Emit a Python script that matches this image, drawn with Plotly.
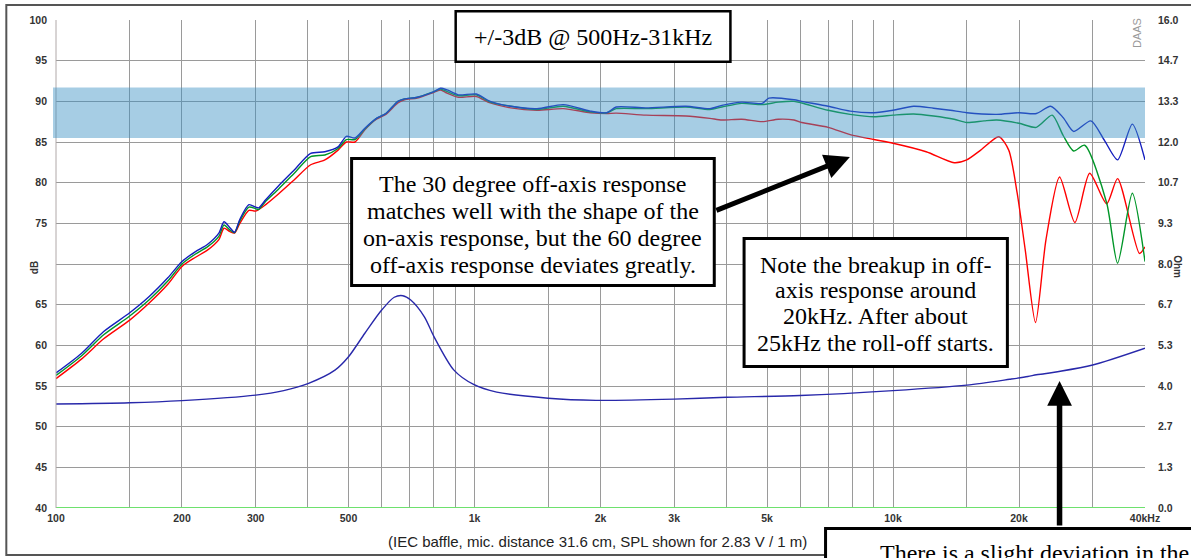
import plotly.graph_objects as go
import math

# ---------------- data ----------------
freq_on = [100, 115, 130, 150, 167, 185, 200, 215, 230, 245, 252, 260, 267, 275, 289, 300, 305, 317, 340, 370,
           406, 439, 472, 494, 518, 547, 583, 614, 656, 680, 730, 800, 830, 860, 915, 1010, 1090, 1220, 1410,
           1630, 1890, 2070, 2180, 2570, 3200, 3650, 3900, 4350, 4870, 5050, 5800, 6050, 7000, 7900, 9000,
           10000, 11200, 12500, 13700, 15000, 17700, 20000, 22000, 23800, 25500, 27000, 29700, 32000, 34400,
           37300, 40000]
spl_on = [56.6, 59.0, 61.7, 64.0, 66.0, 68.3, 70.3, 71.5, 72.4, 73.8, 75.2, 74.5, 73.9, 75.5, 77.3, 77.0, 76.9,
          77.9, 79.6, 81.5, 83.6, 83.8, 84.4, 85.7, 85.5, 86.7, 87.9, 88.5, 90.0, 90.3, 90.5, 91.2, 91.6, 91.4,
          90.8, 90.9, 90.0, 89.4, 89.1, 89.6, 88.8, 88.6, 89.3, 89.2, 89.4, 89.1, 89.5, 89.9, 89.75, 90.4, 90.2,
          90.0, 89.4, 88.8, 88.6, 88.9, 89.4, 89.15, 88.9, 88.6, 88.4, 88.6, 88.5, 89.4, 88.0, 86.3, 87.6, 85.2,
          82.8, 87.2, 82.8]

freq_30 = [100, 115, 130, 150, 167, 185, 200, 215, 230, 245, 252, 260, 267, 275, 289, 300, 305, 317, 340, 370,
           406, 439, 472, 494, 518, 547, 583, 614, 656, 680, 730, 800, 830, 860, 915, 1010, 1090, 1220, 1410,
           1630, 1890, 2070, 2180, 2570, 3200, 3650, 3900, 4350, 4870, 5320, 5800, 6050, 7000, 7900, 9000,
           10000, 11200, 12500, 14000, 15000, 16500, 17700, 20000, 22000, 24000, 25500, 27000, 28700, 32400,
           34400, 37300, 40000]
spl_30 = [56.3, 58.7, 61.3, 63.6, 65.6, 67.9, 70.0, 71.2, 72.1, 73.4, 74.8, 74.2, 73.85, 75.3, 77.0, 76.8, 76.7,
          77.7, 79.2, 81.1, 83.2, 83.4, 84.2, 85.3, 85.3, 86.6, 87.9, 88.5, 90.0, 90.3, 90.5, 91.2, 91.5, 91.2,
          90.7, 90.8, 89.9, 89.4, 89.0, 89.4, 88.7, 88.6, 89.1, 89.1, 89.3, 89.0, 89.3, 89.75, 89.6, 89.9, 90.0,
          89.8, 88.9, 88.4, 88.1, 88.3, 88.45, 88.2, 87.8, 87.4, 87.6, 87.7, 87.3, 86.8, 88.3, 85.8, 83.9, 84.6,
          77.5, 70.1, 78.7, 70.3]

freq_60 = [100, 115, 130, 150, 167, 185, 200, 215, 230, 245, 252, 260, 267, 275, 289, 300, 317, 340, 370, 406,
           439, 472, 494, 518, 547, 583, 614, 656, 680, 730, 800, 830, 860, 915, 1010, 1090, 1220, 1410, 1630,
           1890, 2070, 2180, 2570, 3200, 3650, 3900, 4350, 4870, 5320, 5800, 6050, 7000, 7900, 9000, 10000,
           12000, 14000, 15000, 16200, 17900, 18900, 19800, 20700, 21900, 23200, 25000, 27200, 29500, 32400,
           34400, 38800, 40000]
spl_60 = [55.9, 58.3, 60.8, 63.1, 65.2, 67.5, 69.7, 70.8, 71.7, 73.0, 74.4, 74.0, 73.8, 75.0, 76.6, 76.5, 77.3,
          78.6, 80.3, 82.2, 82.8, 84.0, 85.0, 85.0, 86.5, 87.8, 88.4, 89.8, 90.2, 90.4, 91.1, 91.4, 91.0, 90.5,
          90.6, 89.8, 89.2, 88.9, 89.1, 88.6, 88.5, 88.55, 88.3, 88.2, 87.9, 87.7, 87.8, 87.5, 87.8, 87.7, 87.4,
          86.8, 85.9, 85.3, 84.85, 83.8, 82.45, 82.8, 84.0, 85.65, 84.0, 78.7, 71.7, 62.8, 73.0, 80.7, 75.1,
          81.15, 77.4, 80.5, 71.3, 72.1]

freq_imp = [100, 150, 200, 300, 350, 400, 464, 500, 547, 600, 643, 674, 704, 759, 800, 893, 995, 1130, 1500,
            1950, 3000, 4000, 6000, 10000, 15000, 19000, 21000, 22000, 23000, 24500, 30000, 40000]
imp_ohm = [3.41, 3.45, 3.52, 3.70, 3.85, 4.08, 4.52, 4.96, 5.73, 6.49, 6.91, 6.96, 6.82, 6.27, 5.62, 4.52, 4.05,
           3.80, 3.60, 3.53, 3.57, 3.63, 3.69, 3.85, 4.03, 4.22, 4.31, 4.37, 4.40, 4.46, 4.69, 5.24]

x_grid = [100, 150, 200, 300, 400, 500, 600, 700, 800, 900, 1000, 1500, 2000, 3000, 4000, 5000, 6000, 7000,
          8000, 9000, 10000, 15000, 20000, 30000, 40000]
x_labels = ["100", "", "200", "300", "", "500", "", "", "", "", "1k", "", "2k", "3k", "", "5k", "", "", "", "",
            "10k", "", "20k", "", "40kHz"]
db_ticks = [40, 45, 50, 55, 60, 65, 70, 75, 80, 85, 90, 95, 100]
db_labels = ["40", "45", "50", "55", "60", "65", "", "75", "80", "85", "90", "95", "100"]
ohm_ticks = ["0.0", "1.3", "2.7", "4.0", "5.3", "6.7", "8.0", "9.3", "10.7", "12.0", "13.3", "14.7", "16.0"]
band_lo, band_hi = 85.5, 91.7

box1_lines = ["+/-3dB @ 500Hz-31kHz"]
box2_lines = ["The 30 degree off-axis response", "matches well with the shape of the",
              "on-axis response, but the 60 degree", "off-axis response deviates greatly."]
box3_lines = ["Note the breakup in off-", "axis response around", "20kHz. After about",
              "25kHz the roll-off starts."]
box4_lines = ["There is a slight deviation in the"]

# ---------------- layout helpers ----------------
W, H = 1191, 558
L, R, T, B = 56, 39, 20, 50
PW, PH = W - L - R, H - T - B


def px(x):
    return (x - L) / PW


def py(y):
    return (H - B - y) / PH


fig = go.Figure()
fig.add_trace(go.Scatter(x=freq_imp, y=imp_ohm, yaxis="y2", mode="lines",
                         line=dict(color="rgb(40,40,170)", width=1.4, shape="spline", smoothing=0.8)))
fig.add_trace(go.Scatter(x=freq_60, y=spl_60, mode="lines",
                         line=dict(color="rgb(255,0,0)", width=1.4, shape="spline", smoothing=0.7)))
fig.add_trace(go.Scatter(x=freq_30, y=spl_30, mode="lines",
                         line=dict(color="rgb(0,150,40)", width=1.4, shape="spline", smoothing=0.7)))
fig.add_trace(go.Scatter(x=freq_on, y=spl_on, mode="lines",
                         line=dict(color="rgb(20,30,190)", width=1.4, shape="spline", smoothing=0.7)))

tickfont = dict(family="Liberation Sans, Arial", size=10.5, color="#333", weight="bold")

fig.update_layout(
    width=W, height=H, margin=dict(l=L, r=R, t=T, b=B),
    paper_bgcolor="white", plot_bgcolor="white", showlegend=False,
    xaxis=dict(type="log", range=[2, math.log10(40000)], tickvals=x_grid, ticktext=x_labels,
               showgrid=True, gridcolor="#9a9a9a", gridwidth=1.3, zeroline=False,
               showline=False, ticks="", tickfont=tickfont, ticklabelstandoff=2),
    yaxis=dict(range=[40, 100], tickvals=db_ticks, ticktext=db_labels, showgrid=True, gridcolor="#9a9a9a",
               gridwidth=1.3, zeroline=False, showline=False, ticks="", tickfont=tickfont,
               ticklabelstandoff=8),
    yaxis2=dict(range=[0, 16], overlaying="y", side="right",
                tickvals=[i * 16 / 12 for i in range(13)], ticktext=ohm_ticks,
                showgrid=False, zeroline=False, showline=False, ticks="", tickfont=tickfont,
                ticklabelstandoff=12),
)

shapes = []
# outer frame
shapes.append(dict(type="rect", xref="paper", yref="paper", x0=px(6), x1=px(1200), y0=py(555), y1=py(5),
                   line=dict(color="#555", width=2), layer="below"))
# green bottom axis line
shapes.append(dict(type="line", xref="paper", yref="y", x0=0, x1=1, y0=40, y1=40,
                   line=dict(color="rgb(110,225,110)", width=2)))
# left axis line
shapes.append(dict(type="line", xref="paper", yref="paper", x0=0, x1=0, y0=0, y1=1,
                   line=dict(color="#b0a8a8", width=1)))
# +/-3 dB band
shapes.append(dict(type="rect", xref="paper", yref="y", x0=px(53), x1=1, y0=band_lo, y1=band_hi,
                   fillcolor="rgba(57,144,195,0.45)", line=dict(width=0), layer="above"))

serif = "Liberation Serif, Times New Roman"
sans = "Liberation Sans, Arial"
ann = []


def box(lines, x0, x1, y0, y1, bw, centers, size=24, xtext=None):
    shapes.append(dict(type="rect", xref="paper", yref="paper", x0=px(x0 + bw / 2), x1=px(x1 - bw / 2),
                       y0=py(y1 - bw / 2), y1=py(y0 + bw / 2), fillcolor="white",
                       line=dict(color="black", width=bw), layer="above"))
    for t, yc in zip(lines, centers):
        xa = "center" if xtext is None else "left"
        xv = px((x0 + x1) / 2) if xtext is None else px(xtext)
        ann.append(dict(text=t, xref="paper", yref="paper", x=xv, y=py(yc),
                        xanchor=xa, yanchor="middle", showarrow=False,
                        font=dict(family=serif, size=size, color="black")))


box(box1_lines, 457, 736, 10, 63, 2.5, [37])
box(box2_lines, 352, 720, 157, 287, 3, [184, 211, 238, 265])
box(box3_lines, 747, 1015, 237, 368, 3, [265, 290, 316, 343])
box(box4_lines, 829, 1260, 527, 620, 3, [553], xtext=883)

# arrows
ann.append(dict(text="", xref="paper", yref="paper", x=px(855), y=py(157), ax=720 - 855, ay=211 - 157,
                showarrow=True, arrowhead=2, arrowwidth=5, arrowsize=1, arrowcolor="black", standoff=0))
ann.append(dict(text="", xref="paper", yref="paper", x=px(1066), y=py(381), ax=0, ay=527 - 381,
                showarrow=True, arrowhead=2, arrowwidth=5.5, arrowsize=0.9, arrowcolor="black", standoff=0))

# axis captions
ann.append(dict(text="dB", xref="paper", yref="paper", x=px(34), y=py(268), xanchor="center",
                yanchor="middle", showarrow=False, textangle=-90,
                font=dict(family=sans, size=10, color="#333", weight="bold")))
ann.append(dict(text="Ohm", xref="paper", yref="paper", x=px(1185), y=py(267), xanchor="center",
                yanchor="middle", showarrow=False, textangle=90, borderpad=0,
                font=dict(family=sans, size=10, color="#333", weight="bold")))
ann.append(dict(text="(IEC baffle, mic. distance 31.6 cm, SPL shown for 2.83 V / 1 m)", xref="paper",
                yref="paper", x=px(601), y=py(541), xanchor="center", yanchor="middle", showarrow=False,
                font=dict(family=sans, size=15, color="#222")))
ann.append(dict(text="DAAS", xref="paper", yref="paper", x=px(1144), y=py(33), xanchor="center",
                yanchor="middle", showarrow=False, textangle=-90,
                font=dict(family=sans, size=11, color="#999")))

fig.update_layout(shapes=shapes, annotations=ann)

fig.write_html("out.html", config={"displayModeBar": False},
               post_script="document.body.style.margin='0';document.body.style.overflow='hidden';")
